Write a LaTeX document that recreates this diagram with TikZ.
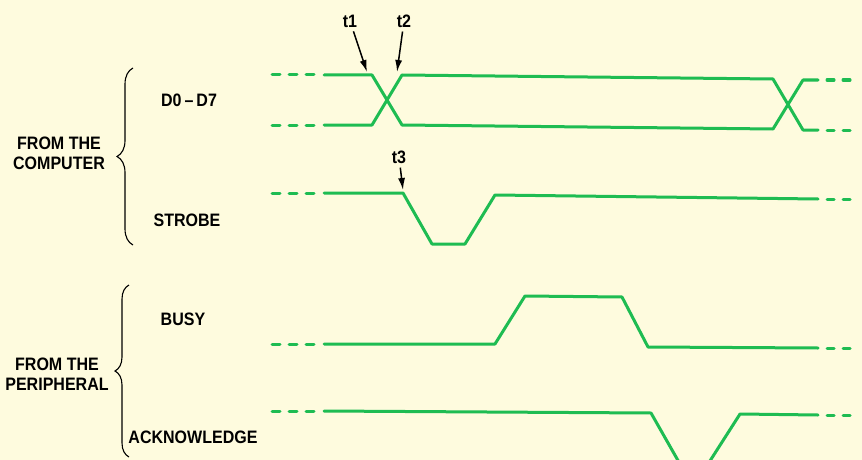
\documentclass[tikz,border=0pt]{standalone}
\usepackage{fontspec}
\newfontfamily\labelfont[FakeStretch=0.89]{Liberation Sans}
\usetikzlibrary{arrows.meta,decorations.pathreplacing}
\definecolor{trace}{RGB}{30,188,82}
\definecolor{paper}{RGB}{254,251,222}
\begin{document}
\begin{tikzpicture}[
    x=1pt, y=-1pt,
    sig/.style={draw=trace, line width=3pt, line join=round, line cap=round},
    lead/.style={sig, dash pattern=on 8pt off 9pt},
    tail/.style={sig, dash pattern=on 7pt off 9pt},
    grp/.style={draw=black, line width=1.1pt, decorate,
        decoration={brace, amplitude=#1}},
    pointer/.style={-{Latex[length=12pt,width=7pt]}, line width=1.5pt, shorten <=3pt},
    every node/.style={font=\labelfont\bfseries\fontsize{18}{20}\selectfont, inner sep=1pt}
]
\useasboundingbox[fill=paper] (0,0) rectangle (862,460);
\clip (0,0) rectangle (862,460);

% Signal names
\node (data) at (189,100) {D0\,\textendash\,D7};
\node (strobe) at (187,220) {STROBE};
\node (busy) at (183,319) {BUSY};
\node (ack) at (193,437) {ACKNOWLEDGE};

% Groups
\node[align=center] (comp) at (59,153) {FROM THE\\COMPUTER};
\node[align=center] (peri) at (57,374) {FROM THE\\PERIPHERAL};
\draw[grp=16pt] (133,245) -- (133,68);
\draw[grp=14pt] (129,457) -- (129,285);

% D0-D7
\draw[lead] (272,75) -- (318,75);
\draw[lead] (272,125) -- (318,125);
\draw[sig] (324,75) -- (372,75) -- (402,125) -- (773,129) -- (803,80) -- (818,80);
\draw[sig] (324,125) -- (372,125) -- (402,75) -- (773,79) -- (803,130) -- (818,130);
\draw[tail] (827,80) -- (853,80);
\draw[tail] (827,130) -- (853,130);

% STROBE
\draw[lead] (272,193) -- (318,193);
\draw[sig] (324,193) -- (403,193) -- (432,244) -- (465,244) -- (495,195) -- (818,199);
\draw[tail] (827,199) -- (853,199);

% BUSY
\draw[lead] (272,344) -- (318,344);
\draw[sig] (324,344) -- (495,344) -- (525,296) -- (622,297) -- (648,347) -- (818,348);
\draw[tail] (827,348) -- (853,348);

% ACKNOWLEDGE
\draw[lead] (272,411) -- (318,411);
\draw[sig] (324,411) -- (651,413) -- (680,464) -- (708,464) -- (740,414) -- (818,415);
\draw[tail] (827,415) -- (853,415);

% Timing points
\node (t1) at (350,21) {t1};
\node (t2) at (404,21) {t2};
\node (t3) at (399,157) {t3};
\coordinate (p1) at (367,72);
\coordinate (p2) at (397,72);
\coordinate (p3) at (403,190);
\draw[pointer] (t1) -- (p1);
\draw[pointer] (t2) -- (p2);
\draw[pointer] (t3) -- (p3);
\end{tikzpicture}
\end{document}
